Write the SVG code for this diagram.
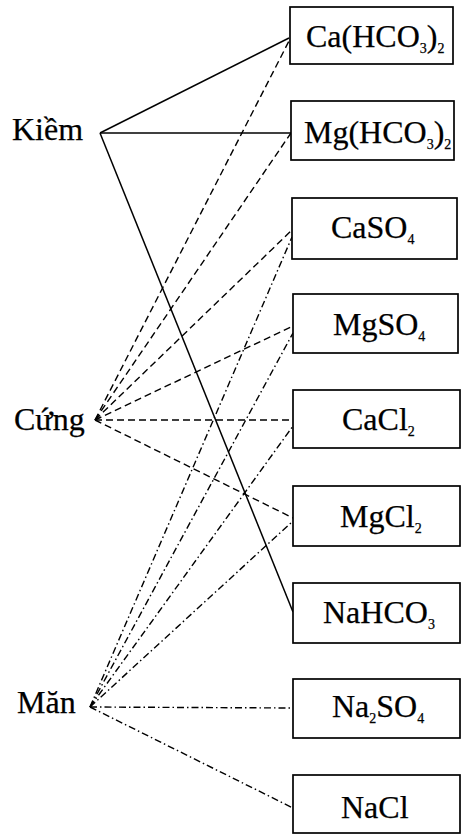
<svg xmlns="http://www.w3.org/2000/svg" width="461" height="835" viewBox="0 0 461 835">
  <style>
    .bg { fill: #ffffff; }
    .box { fill: #ffffff; stroke: #000000; stroke-width: 1.7; }
    .lbl { font-family: "Liberation Serif", "Times New Roman", serif; font-size: 32px; fill: #000000; stroke: #000000; stroke-width: 0.25; }
    .sub { font-size: 14px; }
    .solid { stroke: #000000; stroke-width: 1.5; fill: none; }
    .dash { stroke: #000000; stroke-width: 1.4; fill: none; stroke-dasharray: 7 4; }
    .dashdot { stroke: #000000; stroke-width: 1.4; fill: none; stroke-dasharray: 7 3 1.5 3; }
  </style>
  <rect class="bg" x="0" y="0" width="461" height="835"/>

  <!-- connectors -->
  <g id="connectors">
    <!-- Kiềm -->
    <line class="solid" x1="100" y1="133" x2="289" y2="38"/>
    <line class="solid" x1="100" y1="133" x2="291" y2="133"/>
    <line class="solid" x1="100" y1="133" x2="293" y2="612"/>
    <!-- Cứng -->
    <line class="dash" x1="95" y1="420" x2="289" y2="41"/>
    <line class="dash" x1="95" y1="420" x2="291" y2="133"/>
    <line class="dash" x1="95" y1="420" x2="292" y2="230"/>
    <line class="dash" x1="95" y1="420" x2="293" y2="326"/>
    <line class="dash" x1="95" y1="420" x2="293" y2="420"/>
    <line class="dash" x1="95" y1="420" x2="293" y2="518"/>
    <!-- Măn -->
    <line class="dashdot" x1="90" y1="707" x2="292" y2="237"/>
    <line class="dashdot" x1="90" y1="707" x2="293" y2="333"/>
    <line class="dashdot" x1="90" y1="707" x2="293" y2="426"/>
    <line class="dashdot" x1="90" y1="707" x2="293" y2="521"/>
    <line class="dashdot" x1="90" y1="707" x2="293" y2="708"/>
    <line class="dashdot" x1="90" y1="707" x2="293" y2="808"/>
  </g>

  <!-- water types -->
  <g id="kiem"><text class="lbl" x="12" y="140">Kiềm</text></g>
  <g id="cung"><text class="lbl" x="14" y="430">Cứng</text></g>
  <g id="man"><text class="lbl" x="17" y="713">Măn</text></g>

  <!-- salts -->
  <g id="ca-hco3">
    <rect class="box" x="290" y="7" width="163" height="57"/>
    <text class="lbl" x="306" y="47">Ca(HCO<tspan class="sub" dy="6">3</tspan><tspan dy="-6">)</tspan><tspan class="sub" dy="6">2</tspan></text>
  </g>
  <g id="mg-hco3">
    <rect class="box" x="291" y="101" width="163" height="59"/>
    <text class="lbl" x="304" y="143">Mg(HCO<tspan class="sub" dy="6">3</tspan><tspan dy="-6">)</tspan><tspan class="sub" dy="6">2</tspan></text>
  </g>
  <g id="caso4">
    <rect class="box" x="292" y="198" width="165" height="61"/>
    <text class="lbl" x="331" y="238">CaSO<tspan class="sub" dy="6">4</tspan></text>
  </g>
  <g id="mgso4">
    <rect class="box" x="293" y="294" width="165" height="59"/>
    <text class="lbl" x="333" y="335">MgSO<tspan class="sub" dy="6">4</tspan></text>
  </g>
  <g id="cacl2">
    <rect class="box" x="293" y="390" width="167" height="58"/>
    <text class="lbl" x="342" y="430">CaCl<tspan class="sub" dy="6">2</tspan></text>
  </g>
  <g id="mgcl2">
    <rect class="box" x="293" y="486" width="167" height="60"/>
    <text class="lbl" x="340" y="527">MgCl<tspan class="sub" dy="6">2</tspan></text>
  </g>
  <g id="nahco3">
    <rect class="box" x="293" y="583" width="167" height="60"/>
    <text class="lbl" x="323" y="623">NaHCO<tspan class="sub" dy="6">3</tspan></text>
  </g>
  <g id="na2so4">
    <rect class="box" x="293" y="679" width="167" height="59"/>
    <text class="lbl" x="332" y="717">Na<tspan class="sub" dy="6">2</tspan><tspan dy="-6">SO</tspan><tspan class="sub" dy="6">4</tspan></text>
  </g>
  <g id="nacl">
    <rect class="box" x="293" y="775" width="167" height="58"/>
    <text class="lbl" x="341" y="818">NaCl</text>
  </g>
</svg>
